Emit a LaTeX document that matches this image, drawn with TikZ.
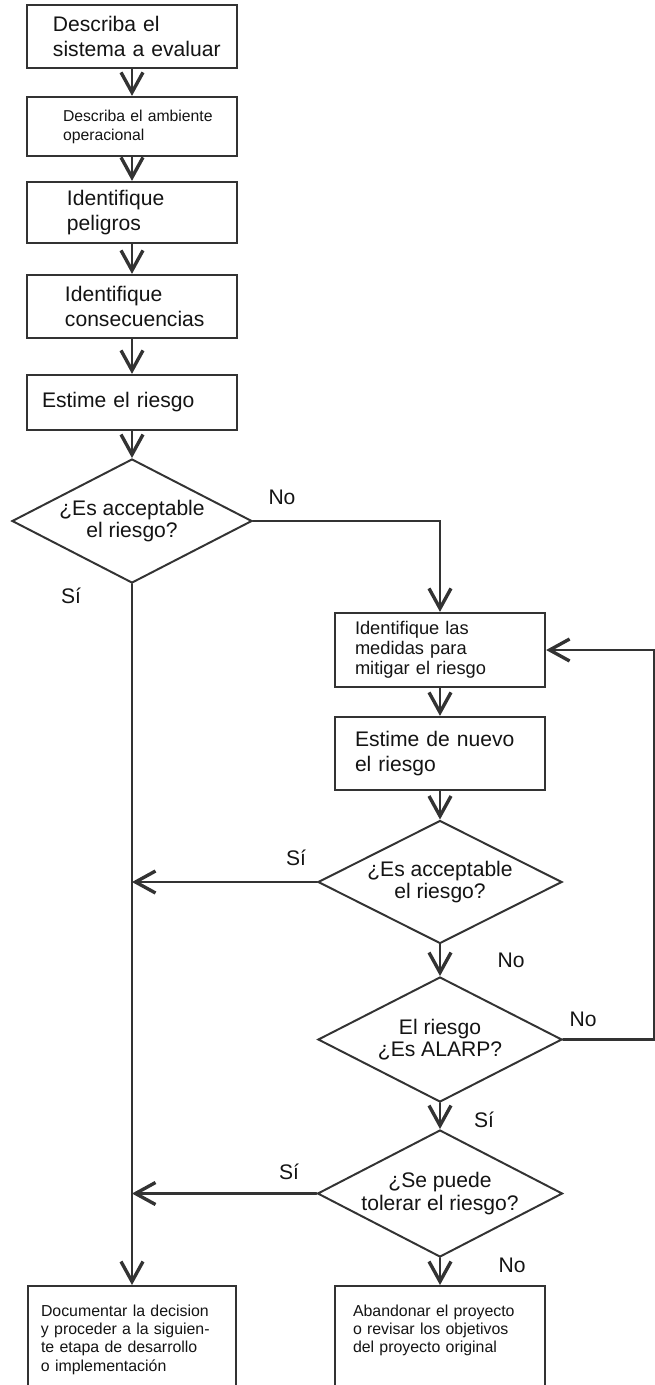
\documentclass[tikz,border=0pt]{standalone}
\usepackage{fontspec}
\setmainfont{Liberation Sans}
\usepackage{xcolor}
\usetikzlibrary{arrows.meta,positioning,shapes.geometric}
\definecolor{ink}{HTML}{333333}
\definecolor{txt}{HTML}{141414}
\tikzset{
    every picture/.style={line cap=round,line join=miter},
    stepbox/.style={draw=ink,fill=white,line width=1.6pt,inner xsep=0pt,inner ysep=3pt,
      text width=5.25cm,align=left,text=txt,
      font=\fontsize{15}{17.7}\selectfont},
    lpad/.style={execute at begin node={\leftskip=#1}},
    smalltext/.style={font=\fontsize{11.2}{13.5}\selectfont},
    midtext/.style={font=\fontsize{13}{14.2}\selectfont},
    notetext/.style={font=\fontsize{11.3}{13.1}\selectfont,anchor=north,
      inner ysep=9pt,text height=12.3pt,text depth=54.7pt},
    decision/.style={draw=ink,fill=white,diamond,shape aspect=2,line width=1.4pt,
      inner sep=0pt,minimum width=6.1cm,minimum height=3.1cm,align=center,text=txt,
      font=\fontsize{15}{16}\selectfont},
    answer/.style={text=txt,font=\fontsize{15}{18}\selectfont,inner sep=0pt},
    flow/.style={-{Straight Barb[length=5mm,width=5.5mm,line width=2.4pt]},draw=ink,
      line width=1.6pt}
}
\begin{document}
\begin{tikzpicture}
  \useasboundingbox (0,0) rectangle (16.375,-34.625);
  % left column
  \node[stepbox,lpad=0.65cm,minimum height=1.575cm] (b1) at (3.3,-0.9125)
    {Describa el\\sistema a evaluar};
  \node[stepbox,smalltext,lpad=0.9cm,minimum height=1.475cm] (b2) at (3.3,-3.1625)
    {Describa el ambiente\\operacional};
  \node[stepbox,lpad=1.0cm,minimum height=1.525cm] (b3) at (3.3,-5.3125)
    {Identifique\\peligros};
  \node[stepbox,lpad=0.95cm,minimum height=1.575cm] (b4) at (3.3,-7.6625)
    {Identifique\\consecuencias};
  \node[stepbox,lpad=0.375cm,minimum height=1.375cm] (b5) at (3.3,-10.0625)
    {Estime el riesgo};
  \node[decision,minimum width=6.0cm] (d1) at (3.3,-13.025)
    {¿Es acceptable\\el riesgo?};
  % right column
  \node[stepbox,midtext,lpad=0.5cm,minimum height=1.85cm] (b6) at (11.0,-16.25)
    {Identifique las\\medidas para\\mitigar el riesgo};
  \node[stepbox,lpad=0.5cm,minimum height=1.825cm] (b7) at (11.0,-18.8375)
    {Estime de nuevo\\el riesgo};
  \node[decision,minimum height=3.075cm] (d2) at (11.0,-22.05)
    {¿Es acceptable\\el riesgo?};
  \node[decision,minimum height=3.125cm] (d3) at (11.0,-25.9875)
    {El riesgo\\¿Es ALARP?};
  \node[decision,minimum width=6.125cm,minimum height=3.175cm] (d4) at (11.0,-29.8375)
    {¿Se puede\\tolerar el riesgo?};
  % end boxes
  \node[stepbox,notetext,lpad=0.325cm,text width=5.2cm] (b8) at (3.3,-32.125)
    {Documentar la decision\\y proceder a la siguien-\\te etapa de desarrollo\\o implementación};
  \node[stepbox,notetext,lpad=0.45cm] (b9) at (11.0,-32.125)
    {Abandonar el proyecto\\o revisar los objetivos\\del proyecto original};
  % connectors
  \draw[flow] (b1) -- (b2);
  \draw[flow] (b2) -- (b3);
  \draw[flow] (b3) -- (b4);
  \draw[flow] (b4) -- (b5);
  \draw[flow] (b5) -- (d1);
  \draw[flow] (d1.east) -| (b6.north);
  \draw[flow] (d1.south) -- (b8.north);
  \draw[flow] (b6) -- (b7);
  \draw[flow] (b7) -- (d2);
  \draw[flow] (d2.west) -- (d2.west -| d1.south);
  \draw[flow] (d2) -- (d3);
  \draw[flow] (d3.east) -- ++(2.275,0) |- (b6.east);
  \draw[flow] (d3) -- (d4);
  \draw[flow] (d4.west) -- (d4.west -| d1.south);
  \draw[flow] (d4) -- (b9);
  % answers
  \node[answer] (no1) at (7.05,-12.425) {No};
  \node[answer] (si1) at (1.775,-14.9) {Sí};
  \node[answer] (si2) at (7.4,-21.45) {Sí};
  \node[answer] (no2) at (12.775,-24.0) {No};
  \node[answer] (no3) at (14.575,-25.475) {No};
  \node[answer] (si3) at (12.1,-28.0) {Sí};
  \node[answer] (si4) at (7.225,-29.3) {Sí};
  \node[answer] (no4) at (12.8,-31.625) {No};
\end{tikzpicture}
\end{document}
